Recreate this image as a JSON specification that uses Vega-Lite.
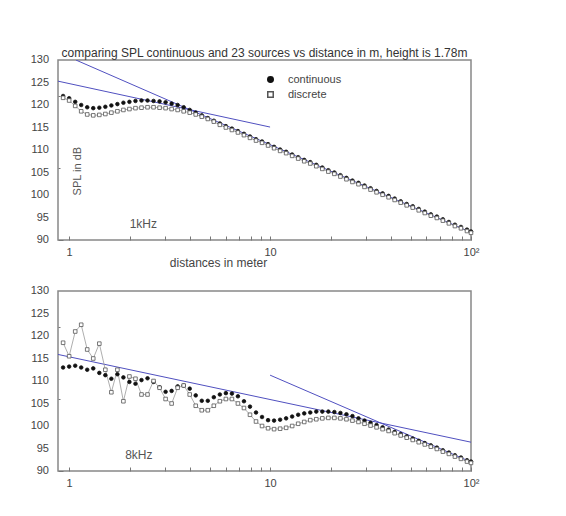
{
  "$schema": "https://vega.github.io/schema/vega-lite/v6.json",
  "padding": {"left": 29, "top": 46, "right": 10, "bottom": 5},
  "config": {
    "font": "Liberation Sans",
    "view": {"stroke": "#888", "strokeWidth": 1.5},
    "axis": {"grid": false, "domain": false, "labelFontSize": 11, "labelColor": "#444", "tickColor": "#777", "titleFontWeight": "normal", "titleFontSize": 12, "titleColor": "#444", "labelFont": "Liberation Sans", "titleFont": "Liberation Sans"}
  },
  "datasets": {
    "yLabels": [{"v":90},{"v":95},{"v":100},{"v":105},{"v":110},{"v":115},{"v":120},{"v":125},{"v":130}],
    "top": [
      {"x":0.933,"continuous":122.0,"discrete":121.6},
      {"x":1,"continuous":121.5,"discrete":121.0},
      {"x":1.072,"continuous":120.7,"discrete":119.8},
      {"x":1.148,"continuous":120.0,"discrete":118.6},
      {"x":1.230,"continuous":119.5,"discrete":117.9},
      {"x":1.318,"continuous":119.3,"discrete":117.7},
      {"x":1.413,"continuous":119.4,"discrete":117.8},
      {"x":1.514,"continuous":119.6,"discrete":118.0},
      {"x":1.622,"continuous":119.9,"discrete":118.3},
      {"x":1.738,"continuous":120.2,"discrete":118.6},
      {"x":1.862,"continuous":120.5,"discrete":118.9},
      {"x":1.995,"continuous":120.7,"discrete":119.1},
      {"x":2.138,"continuous":120.9,"discrete":119.3},
      {"x":2.291,"continuous":121.0,"discrete":119.4},
      {"x":2.455,"continuous":121.0,"discrete":119.5},
      {"x":2.630,"continuous":120.9,"discrete":119.5},
      {"x":2.818,"continuous":120.8,"discrete":119.4},
      {"x":3.020,"continuous":120.6,"discrete":119.3},
      {"x":3.236,"continuous":120.3,"discrete":119.1},
      {"x":3.467,"continuous":120.0,"discrete":118.9},
      {"x":3.715,"continuous":119.5,"discrete":118.6},
      {"x":3.981,"continuous":118.9,"discrete":118.3},
      {"x":4.266,"continuous":118.3,"discrete":117.9},
      {"x":4.571,"continuous":117.7,"discrete":117.4},
      {"x":4.898,"continuous":117.1,"discrete":116.9},
      {"x":5.248,"continuous":116.5,"discrete":116.3},
      {"x":5.623,"continuous":115.9,"discrete":115.6},
      {"x":6.026,"continuous":115.3,"discrete":115.0},
      {"x":6.457,"continuous":114.75,"discrete":114.45},
      {"x":6.918,"continuous":114.2,"discrete":113.9},
      {"x":7.413,"continuous":113.6,"discrete":113.3},
      {"x":7.943,"continuous":113.0,"discrete":112.7},
      {"x":8.511,"continuous":112.4,"discrete":112.1},
      {"x":9.120,"continuous":111.9,"discrete":111.6},
      {"x":9.772,"continuous":111.3,"discrete":111.0},
      {"x":10.47,"continuous":110.7,"discrete":110.4},
      {"x":11.22,"continuous":110.1,"discrete":109.8},
      {"x":12.02,"continuous":109.6,"discrete":109.3},
      {"x":12.88,"continuous":109.0,"discrete":108.7},
      {"x":13.80,"continuous":108.4,"discrete":108.1},
      {"x":14.79,"continuous":107.8,"discrete":107.5},
      {"x":15.85,"continuous":107.3,"discrete":107.0},
      {"x":16.98,"continuous":106.7,"discrete":106.4},
      {"x":18.20,"continuous":106.1,"discrete":105.8},
      {"x":19.50,"continuous":105.5,"discrete":105.2},
      {"x":20.89,"continuous":105.0,"discrete":104.7},
      {"x":22.39,"continuous":104.4,"discrete":104.1},
      {"x":23.99,"continuous":103.8,"discrete":103.5},
      {"x":25.70,"continuous":103.2,"discrete":102.9},
      {"x":27.54,"continuous":102.7,"discrete":102.4},
      {"x":29.51,"continuous":102.1,"discrete":101.8},
      {"x":31.62,"continuous":101.5,"discrete":101.2},
      {"x":33.88,"continuous":100.9,"discrete":100.6},
      {"x":36.31,"continuous":100.35,"discrete":100.05},
      {"x":38.90,"continuous":99.8,"discrete":99.5},
      {"x":41.69,"continuous":99.2,"discrete":98.9},
      {"x":44.67,"continuous":98.6,"discrete":98.3},
      {"x":47.86,"continuous":98.0,"discrete":97.7},
      {"x":51.29,"continuous":97.5,"discrete":97.2},
      {"x":54.95,"continuous":96.9,"discrete":96.6},
      {"x":58.88,"continuous":96.3,"discrete":96.0},
      {"x":63.10,"continuous":95.7,"discrete":95.4},
      {"x":67.61,"continuous":95.2,"discrete":94.9},
      {"x":72.44,"continuous":94.6,"discrete":94.3},
      {"x":77.62,"continuous":94.0,"discrete":93.7},
      {"x":83.18,"continuous":93.4,"discrete":93.1},
      {"x":89.13,"continuous":92.9,"discrete":92.6},
      {"x":95.50,"continuous":92.3,"discrete":92.0},
      {"x":100,"continuous":91.9,"discrete":91.6}
    ],
    "bot": [
      {"x":0.933,"continuous":113.0,"discrete":118.5},
      {"x":1,"continuous":113.2,"discrete":115.5},
      {"x":1.072,"continuous":113.4,"discrete":121.0},
      {"x":1.148,"continuous":113.0,"discrete":122.5},
      {"x":1.230,"continuous":112.5,"discrete":117.0},
      {"x":1.318,"continuous":112.8,"discrete":115.0},
      {"x":1.413,"continuous":111.8,"discrete":118.3},
      {"x":1.514,"continuous":111.3,"discrete":112.5},
      {"x":1.622,"continuous":110.5,"discrete":107.5},
      {"x":1.738,"continuous":111.5,"discrete":112.5},
      {"x":1.862,"continuous":110.8,"discrete":105.5},
      {"x":1.995,"continuous":109.8,"discrete":111.0},
      {"x":2.138,"continuous":109.4,"discrete":110.5},
      {"x":2.291,"continuous":110.2,"discrete":107.0},
      {"x":2.455,"continuous":110.6,"discrete":107.0},
      {"x":2.630,"continuous":109.8,"discrete":110.0},
      {"x":2.818,"continuous":108.6,"discrete":108.5},
      {"x":3.020,"continuous":107.6,"discrete":106.0},
      {"x":3.236,"continuous":107.8,"discrete":105.0},
      {"x":3.467,"continuous":108.8,"discrete":108.5},
      {"x":3.715,"continuous":109.0,"discrete":109.0},
      {"x":3.981,"continuous":108.3,"discrete":107.0},
      {"x":4.266,"continuous":106.8,"discrete":104.5},
      {"x":4.571,"continuous":105.6,"discrete":103.5},
      {"x":4.898,"continuous":105.6,"discrete":103.5},
      {"x":5.248,"continuous":106.4,"discrete":104.5},
      {"x":5.623,"continuous":107.0,"discrete":105.5},
      {"x":6.026,"continuous":107.3,"discrete":106.0},
      {"x":6.457,"continuous":107.2,"discrete":106.0},
      {"x":6.918,"continuous":106.6,"discrete":105.0},
      {"x":7.413,"continuous":105.5,"discrete":104.0},
      {"x":7.943,"continuous":104.3,"discrete":102.5},
      {"x":8.511,"continuous":103.0,"discrete":101.0},
      {"x":9.120,"continuous":102.0,"discrete":100.0},
      {"x":9.772,"continuous":101.3,"discrete":99.5},
      {"x":10.47,"continuous":101.2,"discrete":99.3},
      {"x":11.22,"continuous":101.4,"discrete":99.4},
      {"x":12.02,"continuous":101.7,"discrete":99.6},
      {"x":12.88,"continuous":102.1,"discrete":100.0},
      {"x":13.80,"continuous":102.5,"discrete":100.5},
      {"x":14.79,"continuous":102.8,"discrete":100.9},
      {"x":15.85,"continuous":103.0,"discrete":101.3},
      {"x":16.98,"continuous":103.2,"discrete":101.5},
      {"x":18.20,"continuous":103.2,"discrete":101.7},
      {"x":19.50,"continuous":103.2,"discrete":101.8},
      {"x":20.89,"continuous":103.1,"discrete":101.8},
      {"x":22.39,"continuous":102.9,"discrete":101.7},
      {"x":23.99,"continuous":102.6,"discrete":101.5},
      {"x":25.70,"continuous":102.2,"discrete":101.2},
      {"x":27.54,"continuous":101.7,"discrete":100.9},
      {"x":29.51,"continuous":101.2,"discrete":100.5},
      {"x":31.62,"continuous":100.7,"discrete":100.1},
      {"x":33.88,"continuous":100.2,"discrete":99.7},
      {"x":36.31,"continuous":99.7,"discrete":99.3},
      {"x":38.90,"continuous":99.2,"discrete":98.9},
      {"x":41.69,"continuous":98.7,"discrete":98.4},
      {"x":44.67,"continuous":98.2,"discrete":97.9},
      {"x":47.86,"continuous":97.7,"discrete":97.4},
      {"x":51.29,"continuous":97.2,"discrete":96.9},
      {"x":54.95,"continuous":96.7,"discrete":96.4},
      {"x":58.88,"continuous":96.2,"discrete":95.9},
      {"x":63.10,"continuous":95.7,"discrete":95.4},
      {"x":67.61,"continuous":95.2,"discrete":94.9},
      {"x":72.44,"continuous":94.6,"discrete":94.3},
      {"x":77.62,"continuous":94.1,"discrete":93.8},
      {"x":83.18,"continuous":93.5,"discrete":93.2},
      {"x":89.13,"continuous":93.0,"discrete":92.7},
      {"x":95.50,"continuous":92.4,"discrete":92.1},
      {"x":100,"continuous":92.1,"discrete":91.8}
    ],
    "topLines": [
      {"line":"a","x":1.08,"y":130},{"line":"a","x":100,"y":91.7},
      {"line":"b","x":0.88,"y":125.3},{"line":"b","x":10,"y":115.1}
    ],
    "botLines": [
      {"line":"a","x":0.88,"y":115.9},{"line":"a","x":100,"y":96.4},
      {"line":"b","x":10,"y":111.3},{"line":"b","x":100,"y":92.0}
    ]
  },
  "spacing": 15,
  "resolve": {"legend": {"shape": "independent", "fill": "independent", "stroke": "independent"}},
  "vconcat": [
    {
      "width": 413, "height": 180,
      "title": {"text": "comparing SPL continuous and 23 sources vs distance in m, height is 1.78m", "fontSize": 12, "fontWeight": "normal", "color": "#333", "offset": -6, "font": "Liberation Sans"},
      "layer": [
        {
          "data": {"name": "topLines"},
          "mark": {"type": "line", "color": "#5050c0", "strokeWidth": 1, "clip": true},
          "encoding": {
            "x": {"field": "x", "type": "quantitative", "scale": {"type": "log", "domain": [0.88, 100], "nice": false},
              "axis": {"values": [1,2,3,4,5,6,7,8,9,10,20,30,40,50,60,70,80,90,100], "labelExpr": "datum.value==1?'1':datum.value==10?'10':datum.value==100?'10²':''", "tickSize": -4, "labelPadding": 10, "labelFlush": false, "labelOverlap": false, "title": "distances in meter", "titleX": 160, "titlePadding": 0}},
            "y": {"field": "y", "type": "quantitative", "scale": {"domain": [90, 130], "nice": false},
              "axis": {"values": [90,91,92,93,94,95,96,97,98,99,100,101,102,103,104,105,106,107,108,109,110,111,112,113,114,115,116,117,118,119,120,121,122,123,124,125,126,127,128,129,130], "labels": false, "tickSize": {"condition": {"test": "datum.value % 5 == 0", "value": -5}, "value": -2}, "title": null}},
            "detail": {"field": "line"}
          }
        },
        {
          "data": {"name": "yLabels"},
          "mark": {"type": "text", "align": "right", "baseline": "middle", "fontSize": 11, "color": "#444", "dx": -9},
          "encoding": {"x": {"datum": 0.88, "type": "quantitative"}, "y": {"field": "v", "type": "quantitative"}, "text": {"field": "v", "type": "quantitative"}}
        },
        {
          "data": {"name": "top"},
          "transform": [{"fold": ["continuous", "discrete"], "as": ["series", "spl"]}, {"filter": "datum.series == 'discrete'"}],
          "mark": {"type": "line", "color": "#999", "strokeWidth": 0.8},
          "encoding": {"x": {"field": "x", "type": "quantitative"}, "y": {"field": "spl", "type": "quantitative"}}
        },
        {
          "data": {"name": "top"},
          "transform": [{"fold": ["continuous", "discrete"], "as": ["series", "spl"]}],
          "mark": {"type": "point", "size": 13, "strokeWidth": 0.8, "opacity": 1},
          "encoding": {
            "x": {"field": "x", "type": "quantitative"},
            "y": {"field": "spl", "type": "quantitative"},
            "shape": {"field": "series", "type": "nominal", "scale": {"domain": ["continuous", "discrete"], "range": ["circle", "square"]},
              "legend": {"orient": "none", "legendX": 207, "legendY": 14, "title": null, "labelFontSize": 11, "labelColor": "#444", "padding": 0, "rowPadding": 2, "symbolSize": 30, "labelOffset": 12}},
            "fill": {"field": "series", "type": "nominal", "scale": {"domain": ["continuous", "discrete"], "range": ["#111", "#fff"]},
              "legend": {"orient": "none", "legendX": 207, "legendY": 14, "title": null, "labelFontSize": 11, "labelColor": "#444", "padding": 0, "rowPadding": 2, "symbolSize": 30, "labelOffset": 12}},
            "stroke": {"field": "series", "type": "nominal", "scale": {"domain": ["continuous", "discrete"], "range": ["#111", "#555"]},
              "legend": {"orient": "none", "legendX": 207, "legendY": 14, "title": null, "labelFontSize": 11, "labelColor": "#444", "padding": 0, "rowPadding": 2, "symbolSize": 30, "labelOffset": 12}}
          }
        },
        {
          "data": {"values": [{"x": 2.0, "y": 93.6, "t": "1kHz"}]},
          "mark": {"type": "text", "align": "left", "baseline": "middle", "fontSize": 12, "color": "#555"},
          "encoding": {"x": {"field": "x", "type": "quantitative"}, "y": {"field": "y", "type": "quantitative"}, "text": {"field": "t"}}
        },
        {
          "data": {"values": [{"x": 1.11, "y": 105.3, "t": "SPL in dB"}]},
          "mark": {"type": "text", "align": "center", "baseline": "middle", "fontSize": 11, "color": "#555", "angle": 270},
          "encoding": {"x": {"field": "x", "type": "quantitative"}, "y": {"field": "y", "type": "quantitative"}, "text": {"field": "t"}}
        }
      ]
    },
    {
      "width": 413, "height": 180,
      "layer": [
        {
          "data": {"name": "botLines"},
          "mark": {"type": "line", "color": "#5050c0", "strokeWidth": 1, "clip": true},
          "encoding": {
            "x": {"field": "x", "type": "quantitative", "scale": {"type": "log", "domain": [0.88, 100], "nice": false},
              "axis": {"values": [1,2,3,4,5,6,7,8,9,10,20,30,40,50,60,70,80,90,100], "labelExpr": "datum.value==1?'1':datum.value==10?'10':datum.value==100?'10²':''", "tickSize": -4, "labelPadding": 10, "labelFlush": false, "labelOverlap": false, "title": null}},
            "y": {"field": "y", "type": "quantitative", "scale": {"domain": [90, 130], "nice": false},
              "axis": {"values": [90,91,92,93,94,95,96,97,98,99,100,101,102,103,104,105,106,107,108,109,110,111,112,113,114,115,116,117,118,119,120,121,122,123,124,125,126,127,128,129,130], "labels": false, "tickSize": {"condition": {"test": "datum.value % 5 == 0", "value": -5}, "value": -2}, "title": null}},
            "detail": {"field": "line"}
          }
        },
        {
          "data": {"name": "yLabels"},
          "mark": {"type": "text", "align": "right", "baseline": "middle", "fontSize": 11, "color": "#444", "dx": -9},
          "encoding": {"x": {"datum": 0.88, "type": "quantitative"}, "y": {"field": "v", "type": "quantitative"}, "text": {"field": "v", "type": "quantitative"}}
        },
        {
          "data": {"name": "bot"},
          "transform": [{"fold": ["continuous", "discrete"], "as": ["series", "spl"]}, {"filter": "datum.series == 'discrete'"}],
          "mark": {"type": "line", "color": "#999", "strokeWidth": 0.8},
          "encoding": {"x": {"field": "x", "type": "quantitative"}, "y": {"field": "spl", "type": "quantitative"}}
        },
        {
          "data": {"name": "bot"},
          "transform": [{"fold": ["continuous", "discrete"], "as": ["series", "spl"]}],
          "mark": {"type": "point", "size": 13, "strokeWidth": 0.8, "opacity": 1},
          "encoding": {
            "x": {"field": "x", "type": "quantitative"},
            "y": {"field": "spl", "type": "quantitative"},
            "shape": {"field": "series", "type": "nominal", "scale": {"domain": ["continuous", "discrete"], "range": ["circle", "square"]}, "legend": null},
            "fill": {"field": "series", "type": "nominal", "scale": {"domain": ["continuous", "discrete"], "range": ["#111", "#fff"]}, "legend": null},
            "stroke": {"field": "series", "type": "nominal", "scale": {"domain": ["continuous", "discrete"], "range": ["#111", "#555"]}, "legend": null}
          }
        },
        {
          "data": {"values": [{"x": 1.9, "y": 93.6, "t": "8kHz"}]},
          "mark": {"type": "text", "align": "left", "baseline": "middle", "fontSize": 12, "color": "#555"},
          "encoding": {"x": {"field": "x", "type": "quantitative"}, "y": {"field": "y", "type": "quantitative"}, "text": {"field": "t"}}
        }
      ]
    }
  ]
}
